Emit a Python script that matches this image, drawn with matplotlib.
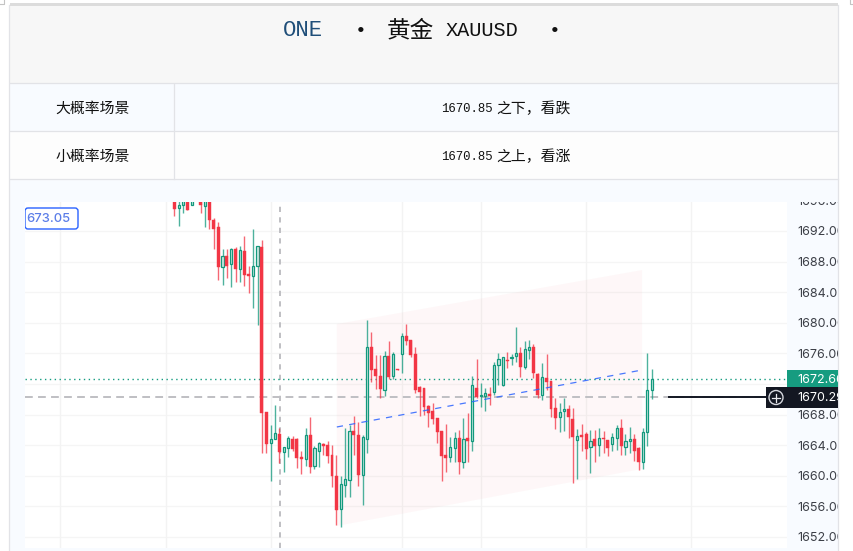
import matplotlib
matplotlib.use('Agg')
import matplotlib.pyplot as plt
from matplotlib.patches import Rectangle, FancyBboxPatch, Polygon, Circle

CJK = ['Liberation Mono', 'Noto Sans CJK SC', 'DejaVu Sans']

# candles (first few run above the top of the chart)
opens = [1697.0, 1694.97, 1695.40, 1697.0, 1695.45, 1697.5, 1697.0, 1695.32, 1697.0, 1693.49,
         1692.57, 1687.30, 1688.69, 1687.65, 1689.61, 1687.04, 1689.39, 1686.34, 1686.17, 1687.47,
         1689.91, 1668.34, 1664.24, 1664.77, 1665.46, 1663.15, 1663.68, 1664.85, 1664.85, 1662.41,
         1662.24, 1665.38, 1661.28, 1663.28, 1664.20, 1663.98, 1662.72, 1659.97, 1655.62, 1658.75,
         1659.45, 1665.90, 1665.38, 1660.15, 1664.85, 1676.88, 1673.91, 1673.04, 1671.21, 1675.61,
         1673.09, 1673.91, 1675.92, 1678.27, 1677.75, 1675.87, 1671.56, 1671.43, 1669.12, 1668.47,
         1667.60, 1665.90, 1662.72, 1662.50, 1663.67, 1664.89, 1661.84, 1664.89, 1664.55, 1671.47,
         1670.47, 1670.47, 1670.69, 1670.91, 1674.44, 1671.82, 1675.18, 1675.40, 1675.70, 1676.01,
         1674.26, 1676.44, 1676.88, 1673.30, 1670.56, 1672.74, 1672.39, 1668.82, 1667.64, 1668.42,
         1668.73, 1667.42, 1664.68, 1665.33, 1665.46, 1663.80, 1664.81, 1664.02, 1664.89, 1664.68,
         1664.15, 1664.94, 1666.25, 1663.80, 1664.55, 1664.85, 1663.59, 1661.84, 1665.68, 1671.21]
closes = [1694.88, 1695.36, 1696.5, 1694.79, 1696.8, 1697.0, 1695.45, 1696.8, 1693.40, 1692.31,
          1687.30, 1688.69, 1687.38, 1689.65, 1687.04, 1689.52, 1686.25, 1686.12, 1687.47, 1690.00,
          1668.25, 1664.16, 1664.77, 1665.64, 1663.15, 1663.72, 1664.90, 1663.50, 1662.33, 1662.24,
          1665.38, 1661.19, 1663.63, 1664.33, 1663.90, 1662.59, 1659.93, 1655.53, 1658.97, 1659.62,
          1665.86, 1665.29, 1660.15, 1665.12, 1676.88, 1673.83, 1673.04, 1671.30, 1675.66, 1672.96,
          1675.87, 1673.83, 1678.27, 1677.66, 1675.74, 1671.21, 1670.99, 1669.03, 1668.25, 1667.47,
          1665.77, 1662.59, 1662.37, 1663.72, 1664.98, 1661.80, 1664.76, 1664.55, 1671.87, 1670.34,
          1670.56, 1670.86, 1670.43, 1674.48, 1675.31, 1675.57, 1675.00, 1675.57, 1676.01, 1674.18,
          1676.57, 1676.88, 1673.39, 1670.56, 1672.87, 1672.30, 1668.77, 1667.60, 1668.38, 1668.77,
          1667.73, 1665.03, 1665.20, 1665.03, 1663.50, 1664.59, 1663.94, 1664.89, 1664.76, 1663.67,
          1665.03, 1666.25, 1663.94, 1664.59, 1664.85, 1663.28, 1661.84, 1665.72, 1671.21, 1672.61]
highs = [1698.5, 1697.5, 1697.5, 1697.5, 1697.0, 1698.0, 1697.5, 1697.5, 1697.5, 1693.66,
         1693.22, 1689.65, 1689.65, 1689.83, 1689.91, 1690.04, 1691.35, 1687.38, 1692.27, 1690.00,
         1690.83, 1668.34, 1666.64, 1669.25, 1666.20, 1663.72, 1665.25, 1665.20, 1665.00, 1663.24,
         1666.20, 1667.69, 1663.90, 1664.42, 1664.33, 1664.51, 1664.07, 1662.72, 1659.97, 1666.25,
         1666.64, 1667.77, 1667.08, 1665.33, 1680.36, 1678.75, 1675.79, 1675.79, 1676.35, 1677.62,
         1676.22, 1673.91, 1678.62, 1679.84, 1677.75, 1676.88, 1671.73, 1671.43, 1669.25, 1669.56,
         1667.60, 1665.90, 1666.77, 1665.03, 1665.77, 1665.98, 1667.55, 1668.16, 1673.04, 1675.22,
         1672.17, 1671.43, 1671.65, 1674.92, 1676.01, 1675.57, 1676.14, 1675.92, 1679.40, 1676.88,
         1677.62, 1677.75, 1677.18, 1673.48, 1674.70, 1675.87, 1672.39, 1670.21, 1669.56, 1670.12,
         1669.25, 1668.82, 1666.11, 1666.72, 1665.77, 1665.98, 1665.98, 1666.29, 1665.90, 1664.68,
         1665.55, 1666.64, 1667.42, 1665.46, 1666.42, 1665.46, 1663.80, 1666.25, 1676.09, 1673.91]
lows = [1694.01, 1692.66, 1694.31, 1694.79, 1695.45, 1696.9, 1694.40, 1692.57, 1692.22, 1689.65,
        1685.60, 1684.95, 1685.90, 1684.73, 1685.38, 1685.38, 1684.86, 1683.94, 1681.98, 1679.72,
        1662.94, 1662.94, 1659.36, 1664.77, 1661.72, 1660.54, 1662.41, 1663.24, 1661.02, 1660.28,
        1661.28, 1660.37, 1660.85, 1661.15, 1662.68, 1661.63, 1658.58, 1653.52, 1653.35, 1657.27,
        1657.19, 1662.72, 1658.67, 1656.18, 1663.02, 1672.30, 1671.30, 1670.12, 1670.43, 1672.65,
        1672.65, 1673.83, 1673.39, 1677.14, 1675.57, 1670.78, 1667.81, 1667.94, 1666.42, 1666.77,
        1664.33, 1659.27, 1660.49, 1661.80, 1661.80, 1660.23, 1660.97, 1661.84, 1663.20, 1670.12,
        1669.03, 1668.51, 1669.21, 1670.56, 1671.87, 1671.73, 1674.09, 1674.48, 1674.83, 1672.96,
        1673.91, 1675.22, 1672.82, 1670.12, 1669.91, 1671.21, 1667.64, 1666.11, 1665.77, 1665.90,
        1664.89, 1659.01, 1659.53, 1663.24, 1662.15, 1660.41, 1661.84, 1662.63, 1662.93, 1662.59,
        1663.24, 1663.37, 1662.72, 1662.76, 1662.93, 1661.93, 1660.75, 1660.89, 1663.94, 1670.01]

price_ticks = [1696, 1692, 1688, 1684, 1680, 1676, 1668, 1664, 1660, 1656, 1652]
grid_prices = [1696, 1692, 1688, 1684, 1680, 1676, 1672, 1668, 1664, 1660, 1656, 1652]
grid_bars = [-26, -2, 22, 52, 70, 94, 118]

# drawn channel: bar numbers and prices of the corners
channel_bars = [37.1, 106.8]
channel_top = [1679.84, 1686.9]
channel_bottom = [1653.44, 1660.9]
channel_mid = [1666.38, 1673.83]

crosshair_bar = 24.15
last_price = 1672.66
cross_price = 1670.29
black_line_bars = [113, 135.2]

row_labels = ['大概率场景', '小概率场景']
row_levels = ['1670.85', '1670.85']
row_texts = ['之下，看跌', '之上，看涨']

W, H = 854, 551
fig = plt.figure(figsize=(W / 100, H / 100), dpi=100, facecolor='white')

# page part, in pixels
bg = fig.add_axes([0, 0, 1, 1], zorder=0)
bg.set_xlim(0, W)
bg.set_ylim(H, 0)
bg.axis('off')

line_c = '#e2e3e7'
bg.add_patch(Rectangle((10, 3), 828, 2.5, color='#dcdcdc', lw=0))
bg.add_patch(Rectangle((10, 5.5), 828, 78, color='#f7f7f7', lw=0))
bg.add_patch(Rectangle((10, 84), 828, 47.5, color='#f8fbff', lw=0))
bg.add_patch(Rectangle((10, 132), 828, 47.5, color='#fdfdfd', lw=0))
bg.add_patch(Rectangle((10, 180), 828, 371, color='#f8fbff', lw=0))
for y in [83, 131, 179]:
    bg.plot([10, 838], [y, y], color=line_c, lw=0.9)
bg.plot([174, 174], [84, 179], color=line_c, lw=0.9)
bg.plot([9.5, 9.5], [5, H], color=line_c, lw=0.9)
bg.plot([838.5, 838.5], [5, H], color=line_c, lw=0.9)
bg.plot([0, 4, 4], [4, 4, 0], color='#c4c4c4', lw=0.8)
bg.plot([854, 850, 850], [4, 4, 0], color='#c4c4c4', lw=0.8)

# title
bg.text(303, 30.5, 'ONE', color='#1f4e79', fontsize=16, family=CJK, ha='center', va='center')
bg.text(361, 31, '•', color='#111111', fontsize=14, family=CJK, ha='center', va='center')
bg.text(410, 31, '黄金', color='#111111', fontsize=17, family=CJK, ha='center', va='center')
bg.text(482, 30.5, 'XAUUSD', color='#111111', fontsize=14.6, family=CJK, ha='center', va='center')
bg.text(555, 31, '•', color='#111111', fontsize=14, family=CJK, ha='center', va='center')

for i in range(2):
    y = 109 + 48 * i
    bg.text(93, y, row_labels[i], fontsize=10.7, family=CJK, color='#111111', ha='center', va='center')
    bg.text(441, y, row_levels[i], fontsize=8.9, family=CJK, color='#111111', ha='left', va='center')
    bg.text(496, y, row_texts[i], fontsize=10.7, family=CJK, color='#111111', ha='left', va='center')

# chart, white panel from x=25 to the price scale
ylim = (1650.56, 1695.79)
y0 = (H - 548) / H
hh = (548 - 202) / H
ax = fig.add_axes([25 / W, y0, (787 - 25) / W, hh], zorder=1)
ax.set_xlim((25 - 174.33) / 4.38, (787 - 174.33) / 4.38)
ax.set_ylim(*ylim)
ax.axis('off')
ax.add_patch(Rectangle((0, 0), 1, 1, transform=ax.transAxes, color='white', lw=0, zorder=0))

for p in grid_prices:
    ax.axhline(p, color='#f5f5f5', lw=1, zorder=1)
for b in grid_bars:
    ax.axvline(b, color='#f3f3f3', lw=1, zorder=1)

# channel
pts = [(channel_bars[0], channel_top[0]), (channel_bars[1], channel_top[1]),
       (channel_bars[1], channel_bottom[1]), (channel_bars[0], channel_bottom[0])]
ax.add_patch(Polygon(pts, closed=True, facecolor='#f23645', alpha=0.035, lw=0, zorder=2))
ax.plot(channel_bars, channel_mid, color='#2962ff', lw=0.9, dashes=(5, 5), alpha=0.85, zorder=5)

ax.axvline(crosshair_bar, color='#bfbfc3', lw=1.4, dashes=(2.7, 2.7), zorder=3)
ax.axhline(cross_price, color='#bfbfc3', lw=1.4, dashes=(4, 2.7), zorder=3)
ax.axhline(last_price, color='#149c80', lw=1, dashes=(1, 2.5), zorder=3)
ax.plot(black_line_bars, [cross_price, cross_price], color='#131722', lw=1.4, zorder=6)

# candles
red = '#f23645'
green = '#12997d'
for i in range(len(opens)):
    up = closes[i] >= opens[i]
    c = green if up else red
    ax.vlines(i, lows[i], highs[i], color=c, lw=1, alpha=0.75, zorder=4)
    top = max(opens[i], closes[i])
    bot = min(opens[i], closes[i])
    if up:
        ax.bar(i, top - bot, bottom=bot, width=0.5, facecolor='#cdeae3', edgecolor=c, lw=0.9, zorder=4.5)
    else:
        ax.bar(i, top - bot, bottom=bot, width=0.68, facecolor=c, edgecolor=c, lw=0.3, zorder=4.5)

# price scale and tags, x in pixels and y in price, clipped at the frame
ov = fig.add_axes([0, y0, 838 / W, hh], zorder=2)
ov.set_xlim(0, 838)
ov.set_ylim(*ylim)
ov.axis('off')
ov.patch.set_alpha(0)

for p in price_ticks:
    ov.text(797, p - 0.18, '{:.2f}'.format(p), fontsize=9, family='Inter', color='#3c3f47',
            ha='left', va='center', clip_on=True)

ov.add_patch(Rectangle((787, 1671.5), 51, 2.3, color='#169c80', lw=0))
ov.text(797, last_price - 0.18, '{:.2f}'.format(last_price), fontsize=9, family='Inter', color='white',
        ha='left', va='center', clip_on=True)
tag_dark = Rectangle((766, cross_price - 1.38), 72, 2.75, color='#131722', lw=0)
ov.add_patch(tag_dark)
ov.text(797, cross_price - 0.18, '{:.2f}'.format(cross_price), fontsize=9, family='Inter', color='white',
        ha='left', va='center', clip_on=True)

# top layer in pixels: the + button and the left badge
top_ax = fig.add_axes([0, 0, 1, 1], zorder=3)
top_ax.set_xlim(0, W)
top_ax.set_ylim(H, 0)
top_ax.axis('off')
top_ax.patch.set_alpha(0)
top_ax.add_patch(Circle((776, 397.5), 7, facecolor='none', edgecolor='#d6d8de', lw=1))
top_ax.plot([772, 780], [397.5, 397.5], color='#e8e9ed', lw=0.9)
top_ax.plot([776, 776], [393.5, 401.5], color='#e8e9ed', lw=0.9)

top_ax.add_patch(FancyBboxPatch((25, 208), 53, 21, boxstyle='round,pad=0,rounding_size=3',
                                facecolor='white', edgecolor='#2962ff', lw=1))
top_ax.add_patch(Rectangle((22, 205), 3, 27, color='#f8fbff', lw=0))
top_ax.text(26, 219.5, '673.05', fontsize=9.3, family='Inter', fontweight='medium', color='#5b7de8',
            ha='left', va='center')

fig.savefig('out.png', dpi=100, facecolor='white')
plt.close(fig)
